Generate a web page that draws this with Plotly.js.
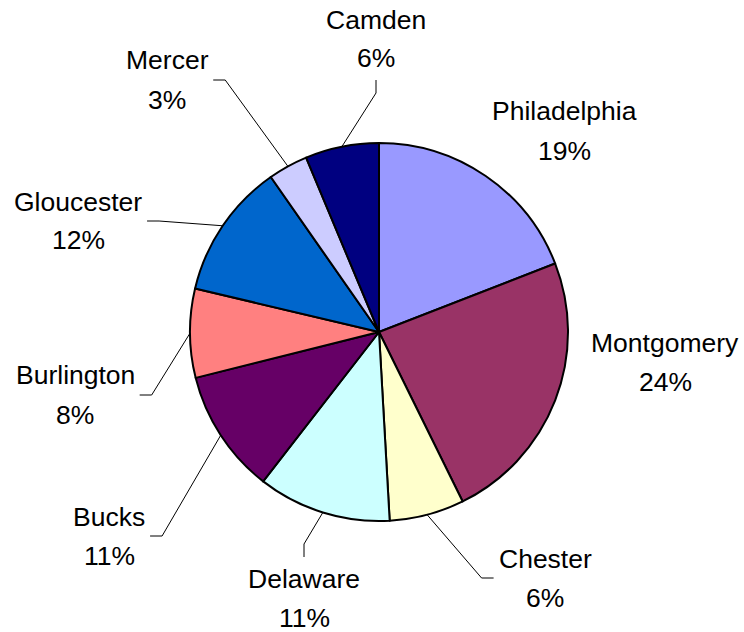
<!DOCTYPE html>
<html><head><meta charset="utf-8">
<script src="https://cdn.plot.ly/plotly-3.0.1.min.js"></script>
<style>html,body{margin:0;padding:0;background:#fff}</style>
</head><body><div id="chart" style="width:744px;height:632px"></div>
<script>
// ---- data ----
const counties = ['Philadelphia','Montgomery','Chester','Delaware','Bucks','Burlington','Gloucester','Mercer','Camden'];
const shares = [19.1, 23.6, 6.4, 11.4, 10.6, 7.6, 11.6, 3.4, 6.3];
const sliceColors = ['#9999FF','#993366','#FFFFCC','#CCFFFF','#660066','#FF8080','#0066CC','#CCCCFF','#000080'];
// ---- label block centres (px) ----
const labelX = [564, 665, 545, 304, 109, 75, 78, 167, 376];
const labelY = [131, 362, 578, 598, 536, 395, 221, 80, 39];

const W = 744, H = 632, CX = 379, CY = 332, R = 189;
const FONT = 'Liberation Sans, Arial, sans-serif';
const FS = 26.5, LINE = 39;

const total = shares.reduce((a, b) => a + b, 0);
const pctText = shares.map(v => Math.round(v / total * 100) + '%');

const px = x => x / W, py = y => 1 - y / H;

const canvas = document.createElement('canvas');
const ctx = canvas.getContext('2d');
ctx.font = FS + 'px "Liberation Sans"';
const tw = s => ctx.measureText(s).width;

const annotations = [];
const shapes = [];
let cum = 0;
counties.forEach((name, i) => {
  const th = (cum + shares[i] / 2) / total * 2 * Math.PI;
  cum += shares[i];
  const lx = labelX[i], ly = labelY[i];
  annotations.push({xref:'paper', yref:'paper', x:px(lx), y:py(ly - LINE/2), text:name, showarrow:false,
    xanchor:'center', yanchor:'middle', font:{family:FONT, size:FS, color:'#000'}});
  annotations.push({xref:'paper', yref:'paper', x:px(lx), y:py(ly + LINE/2), text:pctText[i], showarrow:false,
    xanchor:'center', yanchor:'middle', font:{family:FONT, size:FS, color:'#000'}});
  // leader line
  const Px = CX + R * Math.sin(th), Py = CY - R * Math.cos(th);
  const hw = Math.max(tw(name), tw(pctText[i])) / 2, hh = LINE;
  const dx = Px - lx, dy = Py - ly;
  const ex = Math.max(0, Math.abs(dx) - hw), ey = Math.max(0, Math.abs(dy) - hh);
  if (Math.hypot(ex, ey) < 42) return;
  let ax, ay, sx, sy;
  if (Math.abs(dx) - hw > Math.abs(dy) - hh) {
    const s = Math.sign(dx);
    ax = lx + s * (hw + 5); ay = ly; sx = ax + s * 12; sy = ay;
  } else {
    const s = Math.sign(dy);
    ax = lx; ay = ly + s * (hh + 2); sx = ax; sy = ay + s * 13;
  }
  shapes.push({type:'path', xref:'paper', yref:'paper',
    path:`M ${px(Px)} ${py(Py)} L ${px(sx)} ${py(sy)} L ${px(ax)} ${py(ay)}`,
    line:{color:'#000', width:1}});
});

const trace = {
  type:'pie', labels:counties, values:shares, sort:false, direction:'clockwise', rotation:0,
  marker:{colors:sliceColors, line:{color:'#000', width:2}},
  textinfo:'none', hoverinfo:'label+percent',
  domain:{x:[px(CX - R), px(CX + R)], y:[py(CY + R), py(CY - R)]}
};

Plotly.newPlot('chart', [trace], {
  width:W, height:H, margin:{l:0, r:0, t:0, b:0},
  paper_bgcolor:'#fff', plot_bgcolor:'#fff', showlegend:false,
  annotations, shapes
}, {staticPlot:true});
</script></body></html>
